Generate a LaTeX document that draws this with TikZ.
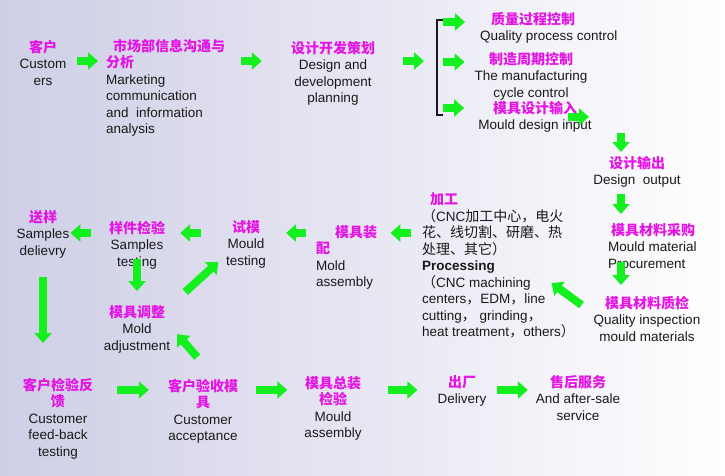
\documentclass[tikz,border=0pt]{standalone}
\usepackage{fontspec}
\setmainfont{Liberation Sans}
\newfontfamily\cjk{Noto Sans CJK SC}
\usepackage{tikz}
\usetikzlibrary{calc,arrows.meta}

\definecolor{mag}{RGB}{228,20,228}
\definecolor{grn}{RGB}{20,240,30}
\definecolor{txt}{RGB}{25,25,25}
\definecolor{bgl}{RGB}{206,206,230}

\newcommand{\zh}[1]{{\cjk\bfseries\fontsize{14}{16.5}\selectfont\color{mag}#1}}
\newcommand{\zn}[1]{{\cjk\fontsize{14}{16.5}\selectfont #1}}

\tikzset{
  lbl/.style={align=center, inner sep=0pt, anchor=north, text=txt,
    font=\fontsize{13.5}{16.5}\selectfont},
  lbll/.style={lbl, align=left, anchor=north west},
  garrow/.style={draw=grn, line width=8pt, -{Triangle[length=10pt,width=17pt]}},
  brk/.style={draw=txt, line width=1.5pt},
}

\begin{document}
\begin{tikzpicture}[x=1pt,y=-1pt]
  \shade[left color=bgl, right color=white] (0,0) rectangle (725,476);
  \useasboundingbox (0,0) rectangle (725,476);

  % top row
  \node[lbl] (cust) at (43,40) {\zh{客户}\\Custom\\ers};
  \node[lbll] (mkt) at (106,39) {\hspace*{7pt}\zh{市场部信息沟通与}\\\zh{分析}\\Marketing\\communication\\and \ information\\analysis};
  \node[lbl] (plan) at (333,41) {\zh{设计开发策划}\\Design and\\development\\planning};
  \node[lbll] (qpc) at (480,12) {\hspace*{11pt}\zh{质量过程控制}\\Quality process control};
  \node[lbl] (cyc) at (531,52) {\zh{制造周期控制}\\The manufacturing\\cycle control};
  \node[lbl] (mdi) at (535,101) {\zh{模具设计输入}\\Mould design input};

  % right column
  \node[lbl] (dout) at (637,156) {\zh{设计输出}\\Design \ output};
  \node[lbll] (mbuy) at (608,223) {\hspace*{3pt}\zh{模具材料采购}\\Mould material\\Procurement};
  \node[lbl] (mqc) at (647,296) {\zh{模具材料质检}\\Quality inspection\\mould materials};

  % middle row
  \node[lbll] (proc) at (422,193) {\hspace*{8pt}\zh{加工}\\\zn{（}CNC\zn{加工中心，电火}\\\zn{花、线切割、研磨、热}\\\zn{处理、其它）}\\\textbf{Processing}\\\zn{（}CNC machining\\centers\zn{，}EDM\zn{，}line\\cutting\zn{，} grinding\zn{，}\\heat treatment\zn{，}others\zn{）}};
  \node[lbll] (masm) at (316,225) {\hspace*{19pt}\zh{模具装}\\\zh{配}\\Mold\\assembly};
  \node[lbl] (mtest) at (246,220) {\zh{试模}\\Mould\\testing};
  \node[lbl] (stest) at (137,221) {\zh{样件检验}\\Samples\\testing};
  \node[lbl] (sdel) at (43,210) {\zh{送样}\\Samples\\delievry};
  \node[lbl] (madj) at (137,305) {\zh{模具调整}\\Mold\\adjustment};

  % bottom row
  \node[lbl] (cfb) at (58,378) {\zh{客户检验反}\\\zh{馈}\\Customer\\feed-back\\testing};
  \node[lbl] (cacc) at (203,379) {\zh{客户验收模}\\\zh{具}\\Customer\\acceptance};
  \node[lbl] (fasm) at (333,376) {\zh{模具总装}\\\zh{检验}\\Mould\\assembly};
  \node[lbl] (dlv) at (462,375) {\zh{出厂}\\Delivery};
  \node[lbl] (asv) at (578,375) {\zh{售后服务}\\And after-sale\\service};

  \coordinate (r1) at (0,61);
  \coordinate (r2) at (0,233);
  \coordinate (r3) at (0,390);
  \coordinate (col) at (621,0);
  \coordinate (btop) at (437,20);
  \coordinate (bbot) at (437,115);
  \coordinate (bt) at (437,22);
  \coordinate (bm) at (437,62);
  \coordinate (bb) at (437,108);

  % bracket
  \draw[brk] ([xshift=6pt]btop) -- (btop) -- (bbot) -- ([xshift=6pt]bbot);

  \draw[garrow,shorten <=11pt,shorten >=8pt] (cust.east |- r1) -- (mkt.west |- r1);
  \draw[garrow,shorten <=16pt,shorten >=29pt] (mkt.east |- r1) -- (plan.west |- r1);
  \draw[garrow,shorten <=28pt,shorten >=13pt] (plan.east |- r1) -- (bm |- r1);
  \draw[garrow,shorten <=6pt,shorten >=15pt] (bt) -- (qpc.west |- bt);
  \draw[garrow,shorten <=6pt,shorten >=10pt] (bm) -- (cyc.west |- bm);
  \draw[garrow,shorten <=6pt,shorten >=14pt] (bb) -- (mdi.west |- bb);
  \draw[garrow] ([xshift=-24pt]mdi.east) -- ([xshift=-3pt]mdi.east);

  \draw[garrow,shorten >=4pt] (mdi.south -| col) -- (dout.north -| col);
  \draw[garrow,shorten <=6pt,shorten >=9pt] (dout.south -| col) -- (mbuy.north -| col);
  \draw[garrow,shorten <=-7pt,shorten >=11pt] (mbuy.south -| col) -- (mqc.north -| col);
  \draw[garrow] ([shift={(-12pt,-9pt)}]mqc.north west) -- ++(-30,-22);

  \draw[garrow,shorten <=11pt,shorten >=13pt] (proc.west |- r2) -- (masm.east |- r2);
  \draw[garrow,shorten <=10pt,shorten >=20pt] (masm.west |- r2) -- (mtest.east |- r2);
  \draw[garrow,shorten <=25pt,shorten >=15pt] (mtest.west |- r2) -- (stest.east |- r2);
  \draw[garrow,shorten <=18pt,shorten >=1pt] (stest.west |- r2) -- (sdel.east |- r2);
  \draw[garrow,shorten <=-10pt,shorten >=14pt] (stest.south) -- (madj.north);
  \draw[garrow] ([shift={(15pt,13pt)}]madj.north east) -- ++(33,-30);
  \draw[garrow] ([shift={(27pt,-4pt)}]madj.south east) -- ++(-20,-23);
  \draw[garrow,shorten <=19pt,shorten >=35pt] (sdel.south) -- (sdel.south |- cfb.north);

  \draw[garrow,shorten <=24pt,shorten >=19pt] (cfb.east |- r3) -- (cacc.west |- r3);
  \draw[garrow,shorten <=18pt,shorten >=17pt] (cacc.east |- r3) -- (fasm.west |- r3);
  \draw[garrow,shorten <=26pt,shorten >=20pt] (fasm.east |- r3) -- (dlv.west |- r3);
  \draw[garrow,shorten <=10pt,shorten >=8pt] (dlv.east |- r3) -- (asv.west |- r3);
\end{tikzpicture}
\end{document}
